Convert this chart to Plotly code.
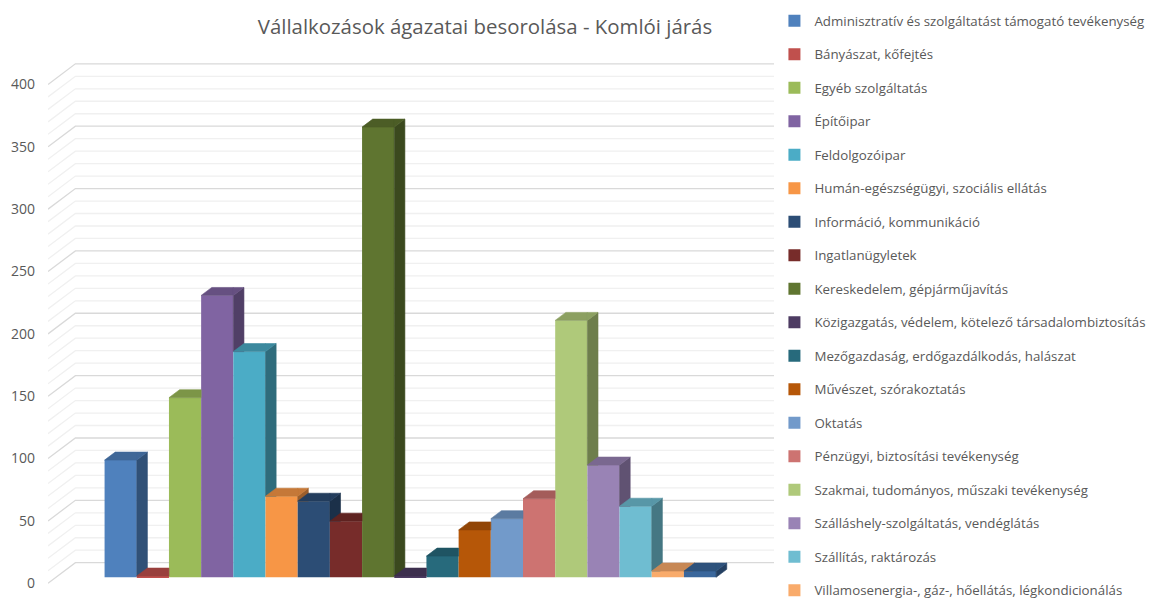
import plotly.graph_objects as go

TITLE = "Vállalkozások ágazatai besorolása - Komlói járás"

SECTORS = [
    "Adminisztratív és szolgáltatást támogató tevékenység",
    "Bányászat, kőfejtés",
    "Egyéb szolgáltatás",
    "Építőipar",
    "Feldolgozóipar",
    "Humán-egészségügyi, szociális ellátás",
    "Információ, kommunikáció",
    "Ingatlanügyletek",
    "Kereskedelem, gépjárműjavítás",
    "Közigazgatás, védelem, kötelező társadalombiztosítás",
    "Mezőgazdaság, erdőgazdálkodás, halászat",
    "Művészet, szórakoztatás",
    "Oktatás",
    "Pénzügyi, biztosítási tevékenység",
    "Szakmai, tudományos, műszaki tevékenység",
    "Szálláshely-szolgáltatás, vendéglátás",
    "Szállítás, raktározás",
    "Villamosenergia-, gáz-, hőellátás, légkondicionálás",
    "Vízellátás, szennyvíz gyűjtése, kezelése, hulladékgazdálkodás",
]
COUNTS = [94, 1, 144, 226, 181, 65, 61, 45, 361, 1, 17, 38, 47, 63, 206, 90, 57, 5, 5]
COLORS = [
    "#4F81BD", "#C0504D", "#9BBB59", "#8064A2", "#4BACC6", "#F79646",
    "#2C4D75", "#772C2A", "#5F7530", "#4D3B62", "#276A7C", "#B65708",
    "#729ACA", "#CD7371", "#AFC97A", "#9983B5", "#6FBDD1", "#F9AB6B",
    "#3A679C",
]
TICKS = list(range(0, 401, 50))
MINOR_TICKS = list(range(0, 401, 10))

# pixel geometry of the fake 3d box
PX_X = 32.2      # px per bar slot
PX_Y = 1.247     # px per unit
SLANT = 1.33     # horizontal px per vertical px of depth
BAR_DEPTH = 8.0
FRONT_GAP = 6.0
WALL_GAP = 14.6

dx = SLANT * BAR_DEPTH / PX_X
dy = BAR_DEPTH / PX_Y
xf, yf = -SLANT * FRONT_GAP / PX_X, -FRONT_GAP / PX_Y
xb, yb = SLANT * WALL_GAP / PX_X, WALL_GAP / PX_Y

X0, X1 = -2.258, 20.609
Y0, Y1 = -11.79, 416.4


def shade(hex_color, f):
    r, g, b = (int(hex_color[k:k + 2], 16) for k in (1, 3, 5))
    return "#%02x%02x%02x" % (int(r * f), int(g * f), int(b * f))


def clip(poly, keep):
    out = []
    for k in range(len(poly)):
        a, b = poly[k], poly[(k + 1) % len(poly)]
        fa, fb = keep(a), keep(b)
        if fa >= 0:
            out.append(a)
        if (fa >= 0) != (fb >= 0):
            t = fa / (fa - fb)
            out.append((a[0] + t * (b[0] - a[0]), a[1] + t * (b[1] - a[1])))
    return out


def to_xy(polys):
    xs, ys = [], []
    for p in polys:
        if len(p) < 3:
            continue
        xs += [q[0] for q in p] + [p[0][0], None]
        ys += [q[1] for q in p] + [p[0][1], None]
    return xs, ys


fig = go.Figure()

for i, (name, val, col) in enumerate(zip(SECTORS, COUNTS, COLORS)):
    fig.add_trace(go.Bar(
        x=[i], y=[val], name=name, width=1, marker_color=col,
        marker_line_width=0, legendgroup=name,
    ))

for i, (val, col) in enumerate(zip(COUNTS, COLORS)):
    xl, xr = i - 0.5, i + 0.5
    nxt = COUNTS[i + 1] if i + 1 < len(COUNTS) else 0
    top = [(xl, val), (xr, val), (xr + dx, val + dy), (xl + dx, val + dy)]
    side = [(xr, 0), (xr + dx, dy), (xr + dx, val + dy), (xr, val)]
    top_a = clip(top, lambda p: xr - p[0])
    top_b = clip(clip(top, lambda p: p[0] - xr), lambda p: p[1] - nxt)
    side_v = clip(side, lambda p: p[1] - nxt)
    for polys, f in (([side_v], 0.63), ([top_a, top_b], 0.8)):
        xs, ys = to_xy(polys)
        if not xs:
            continue
        c = shade(col, f)
        fig.add_trace(go.Scatter(
            x=xs, y=ys, mode="lines", fill="toself", fillcolor=c,
            line=dict(color=c, width=0.6), hoverinfo="skip", showlegend=False,
        ))

# walls: gridlines on side wall and back wall
shapes = []
for v in MINOR_TICKS:
    major = v in TICKS
    shapes.append(dict(
        type="path", layer="below",
        path="M %f,%f L %f,%f L %f,%f" % (X0, v + yf, X0 + xb - xf, v + yb, X1, v + yb),
        line=dict(color="#d9d9d9" if major else "#f0f0f0", width=1.3),
    ))

fig.update_layout(
    width=1150, height=599,
    margin=dict(l=47.7, r=366, t=58, b=7, autoexpand=False),
    paper_bgcolor="white", plot_bgcolor="white",
    barmode="overlay",
    shapes=shapes,
    font=dict(family="Open Sans, sans-serif", color="#595959"),
    title=dict(text=TITLE, x=0.4217, xanchor="center", y=0.955, yanchor="middle",
               font=dict(size=20.4, color="#595959")),
    xaxis=dict(range=[X0, X1], visible=False),
    yaxis=dict(
        range=[Y0, Y1], tickvals=[v + yf for v in TICKS], ticktext=[str(v) for v in TICKS],
        showgrid=False, zeroline=False, showline=False, ticks="",
        ticklabelstandoff=12, tickfont=dict(size=14, color="#595959"),
    ),
    legend=dict(
        x=0.987, xanchor="left", y=1.098, yanchor="top",
        font=dict(size=13.3, color="#595959"), tracegroupgap=13.2,
        traceorder="grouped", maxheight=700,
    ),
)

fig.write_html("out.html", config={"displayModeBar": False},
               post_script="document.body.style.margin = '0';")
